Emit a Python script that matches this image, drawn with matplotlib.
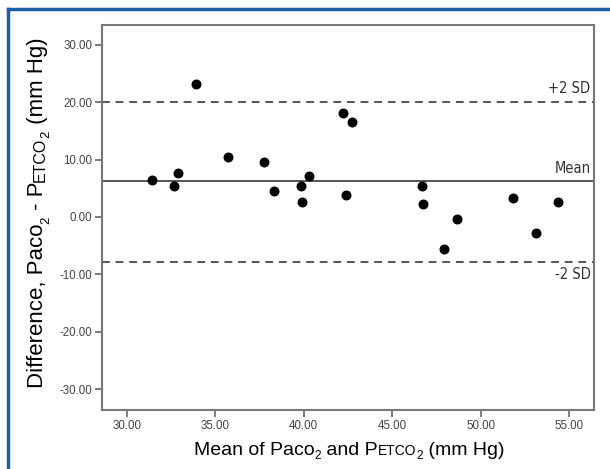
import matplotlib
matplotlib.use("Agg")
import matplotlib.pyplot as plt
from matplotlib.lines import Line2D

# Bland-Altman data
mean_vals = [31.44, 32.65, 32.88, 33.89, 35.72, 37.77, 38.33, 39.85, 39.91, 40.30,
             42.19, 42.75, 42.39, 46.69, 46.76, 48.64, 47.92, 51.84, 53.14, 54.34]
diff_vals = [6.43, 5.39, 7.60, 23.11, 10.44, 9.57, 4.57, 5.39, 2.54, 7.13,
             18.16, 16.49, 3.87, 5.35, 2.20, -0.42, -5.54, 3.35, -2.86, 2.60]
mean_diff = 6.2
upper_sd = 20.0
lower_sd = -7.8
xticks = [30, 35, 40, 45, 50, 55]
yticks = [30, 20, 10, 0, -10, -20, -30]

plt.rcParams['font.family'] = ['Liberation Sans', 'DejaVu Sans']

fig = plt.figure(figsize=(6.1, 4.69), dpi=100)
ax = fig.add_axes([0.1677, 0.1258, 0.8056, 0.8209])

ax.scatter(mean_vals, diff_vals, s=38, color='black', zorder=3)
ax.axhline(mean_diff, color='#555555', lw=1.4)
ax.axhline(upper_sd, color='#555555', lw=1.4, ls=(0, (4, 3)))
ax.axhline(lower_sd, color='#555555', lw=1.4, ls=(0, (4, 3)))

lbl = dict(ha='right', fontsize=10.5, family='DejaVu Sans', stretch='condensed',
           color='#333333')
ax.text(56.2, upper_sd + 1.1, '+2 SD', va='bottom', **lbl)
ax.text(56.2, mean_diff + 0.9, 'Mean', va='bottom', **lbl)
ax.text(56.2, lower_sd - 1.0, '-2 SD', va='top', **lbl)

ax.set_xlim(28.62, 56.38)
ax.set_ylim(-33.65, 33.44)
ax.set_xticks(xticks)
ax.set_yticks(yticks)
ax.set_xticklabels([f'{t:.2f}' for t in xticks])
ax.set_yticklabels([f'{t:.2f}' for t in yticks])
ax.tick_params(colors='#666666', labelcolor='#444444', labelsize=8.3,
               length=5, width=1.2, pad=2)
for s in ax.spines.values():
    s.set_color('#777777')
    s.set_linewidth(1.5)

# axis labels built from pieces (small caps + subscripts)
fig.canvas.draw()
rend = fig.canvas.get_renderer()


def piece_label(pieces, x0, y0, rotation=0):
    texts = []
    total = 0
    for s, size, dy in pieces:
        t = fig.text(0, 0, s, fontsize=size, rotation=rotation,
                     transform=None, ha='left', va='baseline')
        bb = t.get_window_extent(rend)
        w = bb.height if rotation else bb.width
        texts.append((t, w, dy))
        total += w
    pos = -total / 2
    for t, w, dy in texts:
        if rotation:
            t.set_position((x0 - dy, y0 + pos))
            t.set_va('bottom')
            t.set_rotation_mode('anchor')
        else:
            t.set_position((x0 + pos, y0 + dy))
        pos += w


H = 469
xl = [('Mean of Paco', 14, 0), ('2', 8.5, -4), (' and P', 14, 0),
      ('ETCO', 10, 0), ('2', 8.5, -4), (' (mm Hg)', 14, 0)]
piece_label(xl, 349, H - 455)
yl = [('Difference, Paco', 16, 0), ('2', 9.5, -4.5), (' - P', 16, 0),
      ('ETCO', 11.5, 0), ('2', 9.5, -4.5), (' (mm Hg)', 16, 0)]
piece_label(yl, 48, H - 213, rotation=90)

# blue frame (left and top edges visible)
fig.add_artist(Line2D([8 / 610, 8 / 610], [0, 1 - 9 / H], color='#1f5fa8', lw=2.5))
fig.add_artist(Line2D([8 / 610, 1], [1 - 9 / H, 1 - 9 / H], color='#1f5fa8', lw=2.5))

fig.savefig('out.png', dpi=100)
